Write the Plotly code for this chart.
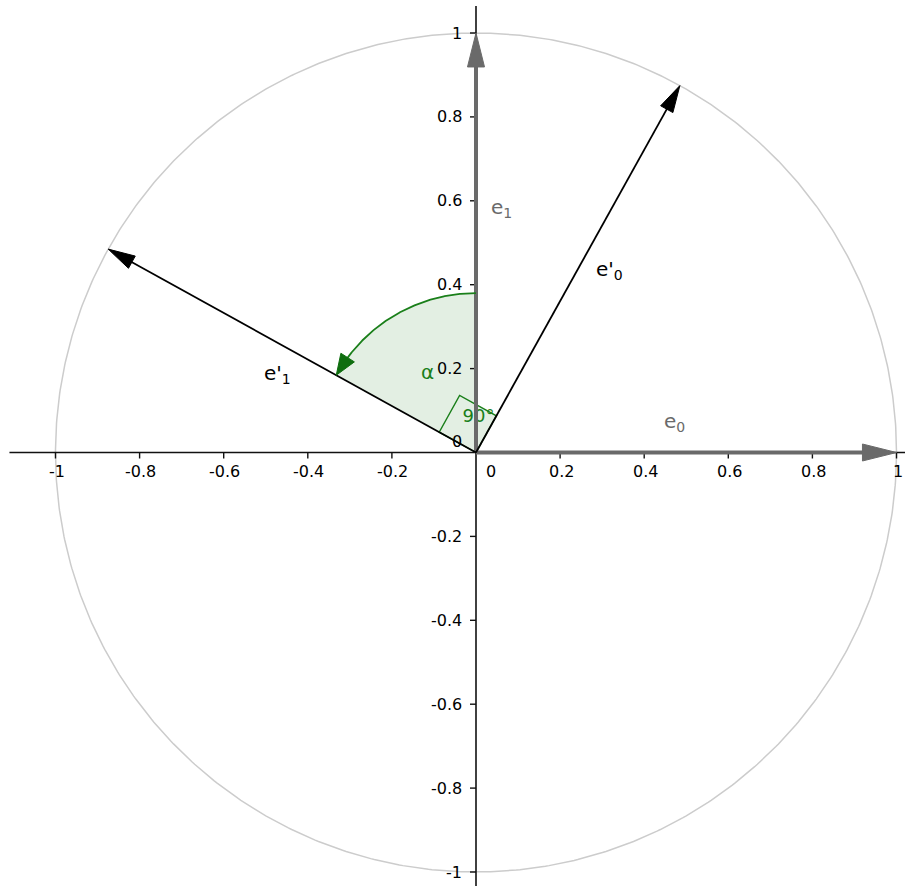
import numpy as np
import plotly.graph_objects as go

# ---- data -------------------------------------------------------------
rotation_deg = 61                      # angle alpha between e1 and e'1
tick_values = [-1, -0.8, -0.6, -0.4, -0.2, 0, 0.2, 0.4, 0.6, 0.8, 1]
tick_labels = ["-1", "-0.8", "-0.6", "-0.4", "-0.2", "0",
               "0.2", "0.4", "0.6", "0.8", "1"]
basis_names = ["e<sub>0</sub>", "e<sub>1</sub>"]
rotated_names = ["e'<sub>0</sub>", "e'<sub>1</sub>"]
angle_label = "α"
right_angle_label = "90°"
angle_radius = 0.38
right_angle_size = 0.1

# ---- derived geometry -------------------------------------------------
t = np.radians(rotation_deg)
e0 = np.array([1.0, 0.0])
e1 = np.array([0.0, 1.0])
e0r = np.array([np.cos(t), np.sin(t)])
e1r = np.array([-np.sin(t), np.cos(t)])

PX = 1 / 420.0   # data units per screen pixel
FONT = "DejaVu Sans, Verdana, sans-serif"
GREEN = "#1a7f1a"
GREEN_FILL = "#e3efe3"
GRAY = "#6a6a6a"

fig = go.Figure()


def head(tip, direction, length, half_w):
    d = direction / np.linalg.norm(direction)
    n = np.array([-d[1], d[0]])
    base = tip - d * length * PX
    p1 = base + n * half_w * PX
    p2 = base - n * half_w * PX
    return [tip[0], p1[0], p2[0], tip[0]], [tip[1], p1[1], p2[1], tip[1]]


def vector(v, color, width, length, half_w):
    end = v - v / np.linalg.norm(v) * length * 0.7 * PX
    fig.add_trace(go.Scatter(x=[0, end[0]], y=[0, end[1]], mode="lines",
                             line=dict(color=color, width=width),
                             hoverinfo="skip"))
    hx, hy = head(v, v, length, half_w)
    fig.add_trace(go.Scatter(x=hx, y=hy, mode="lines", fill="toself",
                             fillcolor=color, line=dict(color=color, width=1),
                             hoverinfo="skip"))


# unit circle
phi = np.linspace(0, 2 * np.pi, 721)
fig.add_trace(go.Scatter(x=np.cos(phi), y=np.sin(phi), mode="lines",
                         line=dict(color="#cccccc", width=1.5),
                         hoverinfo="skip"))

# shaded sector for alpha (from e1 to e'1)
a0 = np.pi / 2
a1 = a0 + t
arc = np.linspace(a0, a1, 200)
fig.add_trace(go.Scatter(x=np.r_[0, angle_radius * np.cos(arc), 0],
                         y=np.r_[0, angle_radius * np.sin(arc), 0],
                         mode="lines", fill="toself", fillcolor=GREEN_FILL,
                         line=dict(width=0), hoverinfo="skip"))

# right-angle marker between e'0 and e'1
sq = np.array([[0, 0], e0r, e0r + e1r, e1r, [0, 0]]) * right_angle_size
fig.add_trace(go.Scatter(x=sq[:, 0], y=sq[:, 1], mode="lines", fill="toself",
                         fillcolor=GREEN_FILL, line=dict(color=GREEN, width=1.4),
                         hoverinfo="skip"))

# axes and tick marks
fig.add_trace(go.Scatter(x=[-466 * PX, 1.2], y=[0, 0], mode="lines",
                         line=dict(color="#111111", width=1.6), hoverinfo="skip"))
fig.add_trace(go.Scatter(x=[0, 0], y=[-1.2, 447 * PX], mode="lines",
                         line=dict(color="#111111", width=1.6), hoverinfo="skip"))
tx, ty = [], []
for v in tick_values:
    if v == 0:
        continue
    tx += [v, v, None]
    ty += [0, -6 * PX, None]
    tx += [0, -6 * PX, None]
    ty += [v, v, None]
fig.add_trace(go.Scatter(x=tx, y=ty, mode="lines",
                         line=dict(color="#111111", width=1.4), hoverinfo="skip"))

# 90° label sits beneath the e1 vector
fig.add_trace(go.Scatter(x=[0.006], y=[0.083], mode="text",
                         text=[right_angle_label], textposition="middle center",
                         textfont=dict(family=FONT, size=18, color=GREEN),
                         hoverinfo="skip"))

# standard basis (gray) and rotated basis (black)
vector(e0, GRAY, 4, 34, 8.5)
vector(e1, GRAY, 4, 34, 8.5)
vector(e0r, "#000000", 1.8, 27, 7)
vector(e1r, "#000000", 1.8, 27, 7)

# alpha arc with arrowhead
r_px = angle_radius / PX
arc_end = a1 - 17 / r_px
arc2 = np.linspace(a0, arc_end, 200)
fig.add_trace(go.Scatter(x=angle_radius * np.cos(arc2),
                         y=angle_radius * np.sin(arc2), mode="lines",
                         line=dict(color=GREEN, width=1.8), hoverinfo="skip"))
tip = angle_radius * np.array([np.cos(a1), np.sin(a1)])
chord = tip - angle_radius * np.array([np.cos(a1 - 21 / r_px),
                                       np.sin(a1 - 21 / r_px)])
hx, hy = head(tip, chord, 21, 8)
fig.add_trace(go.Scatter(x=hx, y=hy, mode="lines", fill="toself",
                         fillcolor="#0f6e0f", line=dict(color="#0f6e0f", width=1),
                         hoverinfo="skip"))

annotations = []
# tick labels
for v, lab in zip(tick_values, tick_labels):
    annotations.append(dict(x=v, y=0, text=lab, showarrow=False,
                            xanchor="center", yanchor="top",
                            xshift=15 if v == 0 else 1, yshift=-7,
                            font=dict(family=FONT, size=16, color="#000")))
    annotations.append(dict(x=0, y=v, text=lab, showarrow=False,
                            xanchor="right", yanchor="middle", xshift=-12,
                            yshift=11 if v == 0 else 0,
                            font=dict(family=FONT, size=16, color="#000")))

# vector names
annotations += [
    dict(x=0.443, y=0.072, text=basis_names[0], font=dict(color=GRAY)),
    dict(x=0.030, y=0.582, text=basis_names[1], font=dict(color=GRAY)),
    dict(x=0.280, y=0.436, text=rotated_names[0], font=dict(color="#000")),
    dict(x=-0.510, y=0.188, text=rotated_names[1], font=dict(color="#000")),
    dict(x=-0.135, y=0.192, text=angle_label, font=dict(color=GREEN)),
]
for a in annotations[-5:]:
    a.update(showarrow=False, xanchor="left", yanchor="middle")
    a["font"].update(family=FONT, size=20)

fig.update_layout(
    width=905, height=886,
    margin=dict(l=0, r=0, t=0, b=0),
    paper_bgcolor="white", plot_bgcolor="white",
    showlegend=False,
    xaxis=dict(range=[-476 / 420.5, 429 / 420.5], visible=False, fixedrange=True),
    yaxis=dict(range=[-433.5 / 419.5, 452.5 / 419.5], visible=False, fixedrange=True),
    annotations=annotations,
)

fig.write_html("out.html")
